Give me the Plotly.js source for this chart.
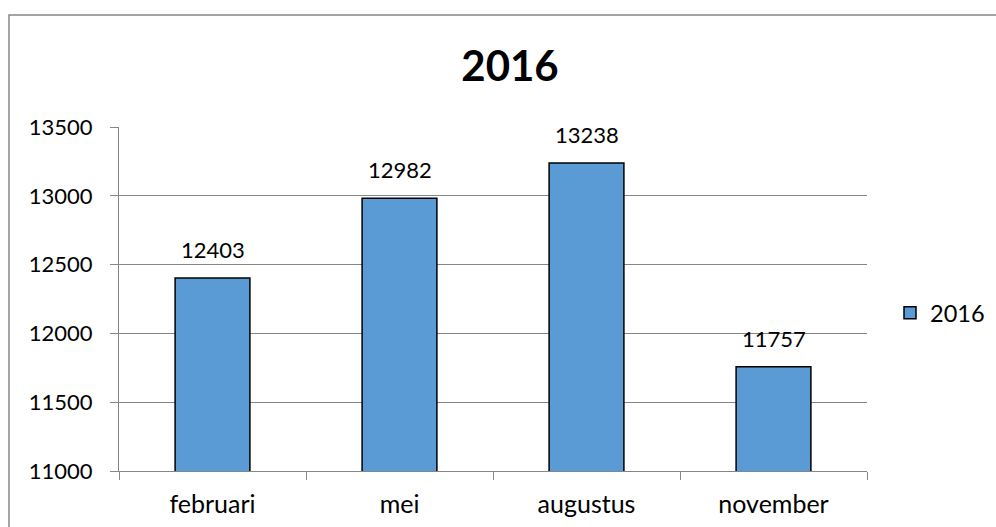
<!DOCTYPE html>
<html>
<head>
<meta charset="utf-8">
<script src="https://cdn.plot.ly/plotly-3.0.1.min.js"></script>
<style>html,body{margin:0;padding:0;background:#fff;}#chart{width:996px;height:527px;}</style>
</head>
<body>
<div id="chart"></div>
<script>
const categories = ['februari', 'mei', 'augustus', 'november'];
const values2016 = [12403, 12982, 13238, 11757];
const seriesName = '2016';
const chartTitle = '2016';
const yTicks = [11000, 11500, 12000, 12500, 13000, 13500];

const W = 996, H = 527;
const mL = 119, mR = 129, mT = 127, mB = 56;
const pw = W - mL - mR, ph = H - mT - mB;
const px = x => (x - mL) / pw;
const py = y => (H - mB - y) / ph;

const font = 'Lato, "Open Sans", sans-serif';
const grey = '#868686';

const trace = {
  type: 'bar',
  x: categories,
  y: values2016,
  name: seriesName,
  marker: {color: '#5B9BD5', line: {color: '#000000', width: 1.5}},
  showlegend: true,
  hoverinfo: 'x+y'
};

const annotations = categories.map((c, i) => ({
  x: c, y: values2016[i], xref: 'x', yref: 'y',
  text: String(values2016[i]), showarrow: false,
  yanchor: 'bottom', yshift: 13,
  font: {family: font, size: 22, color: '#000'}
}));

const layout = {
  width: W, height: H,
  margin: {l: mL, r: mR, t: mT, b: mB, pad: 0, autoexpand: false},
  paper_bgcolor: '#ffffff', plot_bgcolor: '#ffffff',
  font: {family: font, size: 22, color: '#000'},
  title: {
    text: '<b>' + chartTitle + '</b>',
    font: {family: font, size: 42, color: '#000'},
    x: 510 / W, xanchor: 'center', xref: 'container',
    y: 1 - 66 / H, yanchor: 'middle', yref: 'container'
  },
  bargap: 0.6,
  xaxis: {
    type: 'category',
    showline: true, linecolor: grey, linewidth: 1,
    ticks: 'outside', tickson: 'boundaries', ticklen: 8, tickcolor: grey, tickwidth: 1,
    ticklabelstandoff: 11,
    showgrid: false, zeroline: false,
    tickfont: {family: font, size: 25, color: '#000'}
  },
  yaxis: {
    range: [11000, 13500], tickvals: yTicks, ticktext: yTicks.map(String),
    showline: true, linecolor: grey, linewidth: 1,
    ticks: 'outside', ticklen: 8, tickcolor: grey, tickwidth: 1,
    ticklabelstandoff: 13,
    showgrid: true, gridcolor: grey, gridwidth: 1,
    zeroline: false,
    tickfont: {family: font, size: 22, color: '#000'}
  },
  legend: {
    x: px(890), y: py(313), xanchor: 'left', yanchor: 'middle',
    font: {family: font, size: 23.5, color: '#000'},
    bgcolor: 'rgba(0,0,0,0)', borderwidth: 0
  },
  annotations: annotations,
  shapes: [{
    type: 'path', xref: 'paper', yref: 'paper', layer: 'above',
    path: 'M' + px(9) + ',' + py(540) + ' L' + px(9) + ',' + py(15) + ' L' + px(1010) + ',' + py(15),
    line: {color: grey, width: 1.5}
  }]
};

Plotly.newPlot('chart', [trace], layout, {displayModeBar: false, staticPlot: true});
</script>
</body>
</html>
